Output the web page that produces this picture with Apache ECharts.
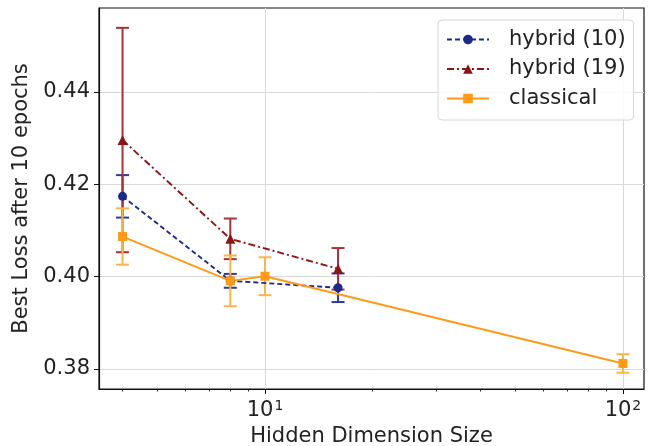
<!DOCTYPE html>
<html>
<head>
<meta charset="utf-8">
<script src="https://cdn.jsdelivr.net/npm/echarts@6/dist/echarts.min.js"></script>
<style>html,body{margin:0;padding:0;background:#fff}#c{width:648px;height:446px}</style>
</head>
<body>
<div id="c"></div>
<script>
// ---- data ----
const hybridX = [4, 8, 16];
const hybrid10Mean = [0.4174, 0.3991, 0.3976];
const hybrid10Err = [0.0046, 0.0015, 0.0031];
const hybrid19Mean = [0.4296, 0.4082, 0.4017];
const hybrid19Err = [0.0243, 0.0044, 0.0045];
const classicalX = [4, 8, 10, 100];
const classicalMean = [0.4087, 0.3991, 0.4001, 0.3812];
const classicalErr = [0.0061, 0.0055, 0.0041, 0.0020];
const yTicks = [0.38, 0.40, 0.42, 0.44];
const xMajorTicks = [10, 100];
const xMinorTicks = [4, 5, 6, 7, 8, 9, 20, 30, 40, 50, 60, 70, 80, 90];

const FONT = 'DejaVu Sans';
const FS = 21;
const C10 = '#1b2a8a', C19 = '#8b1414', CCL = '#ff9a18';
const E10 = '#2c3a9c', E19 = '#a53236', ECL = '#f9b54a';

function pts(xs, ys) { return xs.map((x, i) => [x, ys[i]]); }
function errs(xs, ys, es) { return xs.map((x, i) => [x, ys[i] - es[i], ys[i] + es[i]]); }

function errSeries(name, data, color) {
  return {
    type: 'custom', name: name + '_err', xAxisIndex: 0, yAxisIndex: 0,
    data: data, encode: { x: 0, y: [1, 2] }, silent: true, z: 2,
    renderItem: function (params, api) {
      const lo = api.coord([api.value(0), api.value(1)]);
      const hi = api.coord([api.value(0), api.value(2)]);
      const w = 6.5;
      const st = { stroke: color, lineWidth: 2 };
      return {
        type: 'group', children: [
          { type: 'line', shape: { x1: lo[0], y1: lo[1], x2: hi[0], y2: hi[1] }, style: st },
          { type: 'line', shape: { x1: lo[0] - w, y1: lo[1], x2: lo[0] + w, y2: lo[1] }, style: st },
          { type: 'line', shape: { x1: hi[0] - w, y1: hi[1], x2: hi[0] + w, y2: hi[1] }, style: st }
        ]
      };
    }
  };
}

const chart = echarts.init(document.getElementById('c'), null, { renderer: 'canvas' });
chart.setOption({
  animation: false,
  backgroundColor: '#fff',
  textStyle: { fontFamily: FONT },
  grid: { left: 99, right: 4, top: 8, bottom: 57, show: true, borderColor: '#111', borderWidth: 1.2, containLabel: false, outerBoundsMode: 'none' },
  legend: {
    orient: 'vertical', left: 438, top: 20, selectedMode: false,
    data: ['hybrid (10)', 'hybrid (19)', 'classical'],
    itemWidth: 42, itemHeight: 12, itemGap: 8.5,
    padding: [9, 8, 11, 8],
    backgroundColor: 'rgba(255,255,255,0.85)', borderColor: '#d6d6d6', borderWidth: 1, borderRadius: 4,
    textStyle: { fontFamily: FONT, fontSize: FS, color: '#222', padding: [0, 0, 0, 15] }
  },
  xAxis: [{
    type: 'log', logBase: 10, min: 3.438, max: 114.5, position: 'bottom',
    name: 'Hidden Dimension Size', nameLocation: 'middle', nameGap: 35,
    nameTextStyle: { fontFamily: FONT, fontSize: FS, color: '#222' },
    axisLine: { show: true, onZero: false, lineStyle: { color: '#111', width: 1.2 } },
    axisTick: { show: true, customValues: xMajorTicks, length: 5, lineStyle: { color: '#111', width: 1 } },
    axisLabel: {
      customValues: xMajorTicks, margin: 10, color: '#222', fontFamily: FONT, fontSize: FS,
      formatter: function (v) { return '10{s|' + Math.round(Math.log10(v)) + '}'; },
      rich: { s: { fontSize: 14, fontFamily: FONT, color: '#222', padding: [0, 0, 9, 1] } }
    },
    splitLine: { show: true, lineStyle: { color: '#d9d9d9', width: 1 } }
  }, {
    type: 'log', logBase: 10, min: 3.438, max: 114.5, position: 'bottom', offset: 0,
    axisLine: { show: false },
    axisTick: { show: true, customValues: xMinorTicks, length: 2.5, lineStyle: { color: '#111', width: 0.9 } },
    axisLabel: { show: false }, splitLine: { show: false }
  }],
  yAxis: {
    type: 'value', min: 0.37567, max: 0.4582,
    name: 'Best Loss after 10 epochs', nameLocation: 'middle', nameGap: 62,
    nameTextStyle: { fontFamily: FONT, fontSize: FS, color: '#222' },
    axisLine: { show: true, onZero: false, lineStyle: { color: '#111', width: 1.2 } },
    axisTick: { show: true, customValues: yTicks, length: 5, lineStyle: { color: '#111', width: 1 } },
    axisLabel: {
      customValues: yTicks, margin: 9, color: '#222', fontFamily: FONT, fontSize: FS,
      formatter: function (v) { return v.toFixed(2); }
    },
    splitLine: { show: true, lineStyle: { color: '#d9d9d9', width: 1 } }
  },
  series: [
    errSeries('hybrid (10)', errs(hybridX, hybrid10Mean, hybrid10Err), E10),
    {
      type: 'line', name: 'hybrid (10)', data: pts(hybridX, hybrid10Mean), z: 3,
      symbol: 'circle', symbolSize: 9, color: C10,
      itemStyle: { color: C10 },
      lineStyle: { color: C10, width: 1.9, type: [5, 3] }
    },
    errSeries('hybrid (19)', errs(hybridX, hybrid19Mean, hybrid19Err), E19),
    {
      type: 'line', name: 'hybrid (19)', data: pts(hybridX, hybrid19Mean), z: 3,
      symbol: 'triangle', symbolSize: 10, color: C19,
      itemStyle: { color: C19 },
      lineStyle: { color: C19, width: 1.9, type: [7, 3, 2, 3] }
    },
    errSeries('classical', errs(classicalX, classicalMean, classicalErr), ECL),
    {
      type: 'line', name: 'classical', data: pts(classicalX, classicalMean), z: 3,
      symbol: 'rect', symbolSize: 9, color: CCL,
      itemStyle: { color: CCL },
      lineStyle: { color: CCL, width: 1.9, type: 'solid' }
    }
  ]
});
</script>
</body>
</html>
